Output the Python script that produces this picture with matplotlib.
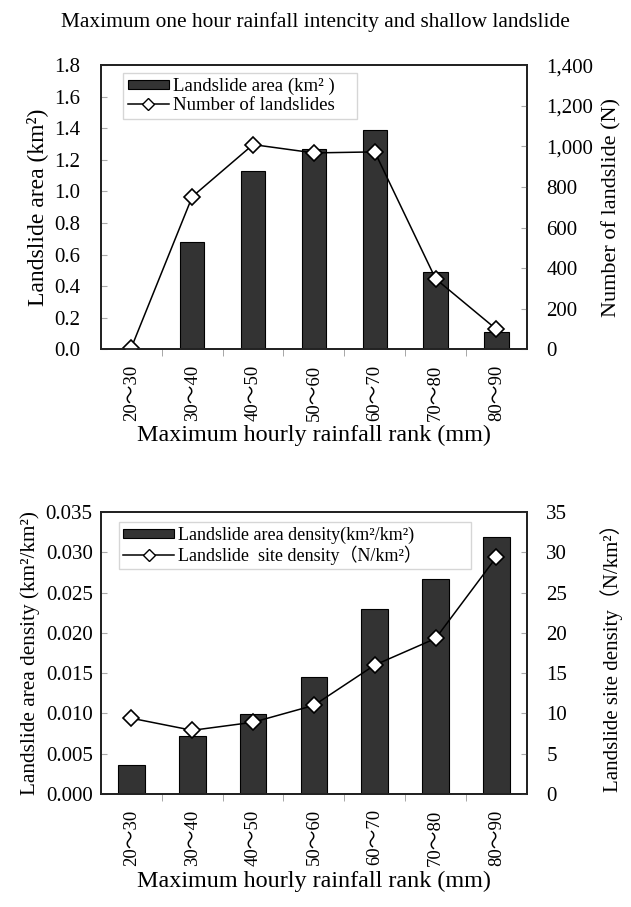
import numpy as np
import matplotlib
matplotlib.use("Agg")
import matplotlib.pyplot as plt
from matplotlib.ticker import FuncFormatter
from matplotlib.patches import Patch
from matplotlib.lines import Line2D

plt.rcParams['font.family'] = ['Liberation Serif', 'Noto Sans CJK SC', 'DejaVu Sans']

# data
ranks = ['20～30', '30～40', '40～50', '50～60', '60～70', '70～80', '80～90']
area = [0.0, 0.68, 1.13, 1.27, 1.39, 0.49, 0.107]
count = [8, 752, 1009, 968, 973, 347, 98]
area_density = [0.0036, 0.0072, 0.0099, 0.0145, 0.0229, 0.0267, 0.0319]
site_density = [9.4, 7.9, 8.9, 11.0, 16.0, 19.3, 29.4]

x = np.arange(len(ranks))
bar_col = '#333333'


def style_axes(ax, ax2, xpad):
	ax.set_xlim(-0.5, len(ranks) - 0.5)
	ax.set_xticks(x)
	ax.set_xticklabels(ranks, rotation=90, fontsize=13.5)
	ax.set_xticks(x[:-1] + 0.5, minor=True)
	ax.tick_params(axis='x', which='major', length=0, pad=xpad)
	ax.tick_params(axis='x', which='minor', length=5, direction='out', color='#999999')
	ax.tick_params(axis='y', direction='in', length=4, color='#aaaaaa', labelsize=15)
	ax2.tick_params(axis='y', direction='in', length=4, color='#aaaaaa', labelsize=15, pad=14)
	for a in (ax, ax2):
		for s in a.spines.values():
			s.set_linewidth(1.3)
			s.set_color('#222222')


def legend_handles(ms):
	bar_h = Patch(facecolor=bar_col, edgecolor='black', linewidth=0.8)
	line_h = Line2D([], [], color='black', lw=1.1, marker='D', ms=ms, mfc='white',
		mec='black', mew=1.0)
	return bar_h, line_h


fig = plt.figure(figsize=(6.31, 9.07), dpi=100)
fig.text(0.5, 0.976, 'Maximum one hour rainfall intencity and shallow landslide',
	ha='center', va='center', fontsize=15.4)

# upper chart
ax1 = fig.add_axes([0.160, 0.615, 0.675, 0.313])
ax1b = ax1.twinx()
ax1.bar(x, area, width=0.4, color=bar_col, edgecolor='black', linewidth=0.8)
ax1b.plot(x, count, color='black', lw=1.1, marker='D', ms=8, mfc='white',
	mec='black', mew=1.2)
ax1.set_ylim(0, 1.8)
ax1.set_yticks(np.arange(0, 1.81, 0.2))
ax1.yaxis.set_major_formatter(FuncFormatter(lambda v, p: '%.1f' % v))
ax1b.set_ylim(0, 1400)
ax1b.set_yticks(np.arange(0, 1401, 200))
ax1b.yaxis.set_major_formatter(FuncFormatter(lambda v, p: '{:,.0f}'.format(v)))
style_axes(ax1, ax1b, 11)
ax1.tick_params(axis='y', pad=15)
ax1.set_ylabel('Landslide area (km²)', fontsize=17, labelpad=4)
ax1b.set_ylabel('Number of landslide (N)', fontsize=16, labelpad=6)
ax1.set_xlabel('Maximum hourly rainfall rank (mm)', fontsize=17.4, labelpad=3)
h = legend_handles(6)
ax1b.legend(h, ['Landslide area (km² )', 'Number of landslides'], loc='upper left',
	bbox_to_anchor=(0.052, 0, 0.549, 0.972), mode='expand', fontsize=13.5,
	frameon=True, fancybox=False, edgecolor='#cccccc', handlelength=2.2,
	handleheight=0.4, handletextpad=0.2, borderpad=0.25, labelspacing=0.1,
	borderaxespad=0)

# lower chart
ax2 = fig.add_axes([0.160, 0.1246, 0.675, 0.311])
ax2b = ax2.twinx()
ax2.bar(x, area_density, width=0.44, color=bar_col, edgecolor='black', linewidth=0.8)
ax2b.plot(x, site_density, color='black', lw=1.1, marker='D', ms=8, mfc='white',
	mec='black', mew=1.2)
ax2.set_ylim(0, 0.035)
ax2.set_yticks(np.arange(0, 0.0351, 0.005))
ax2.yaxis.set_major_formatter(FuncFormatter(lambda v, p: '%.3f' % v))
ax2b.set_ylim(0, 35)
ax2b.set_yticks(np.arange(0, 36, 5))
style_axes(ax2, ax2b, 11)
ax2.tick_params(axis='y', pad=6)
for t in ax2.get_yticklabels():
	t.set_family(['Liberation Sans Narrow', 'Liberation Serif'])
	t.set_fontsize(15)
ax2.set_ylabel('Landslide area density (km²/km²)', fontsize=15.3, labelpad=4)
ax2b.set_ylabel('Landslide site density（N/km²）', fontsize=15, labelpad=24)
ax2.set_xlabel('Maximum hourly rainfall rank (mm)', fontsize=17.4, labelpad=4)
h = legend_handles(6)
ax2b.legend(h, ['Landslide area density(km²/km²)', 'Landslide  site density（N/km²）'],
	loc='upper left', bbox_to_anchor=(0.042, 0, 0.826, 0.965), mode='expand',
	fontsize=13, frameon=True, fancybox=False, edgecolor='#cccccc', handlelength=2.8,
	handleheight=0.4, handletextpad=0.2, borderpad=0.25, labelspacing=0.1,
	borderaxespad=0)

fig.savefig('out.png', dpi=100)
